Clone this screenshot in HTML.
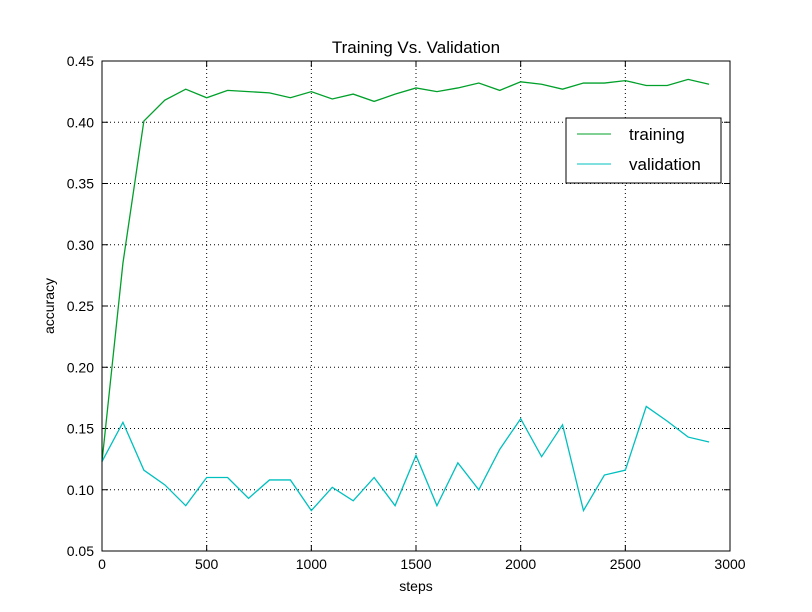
<!DOCTYPE html>
<html><head><meta charset="utf-8"><style>
body{margin:0;background:#fff}
svg{display:block;font-family:"Liberation Sans","DejaVu Sans",sans-serif}
</style></head><body>
<svg id="chart" width="812" height="612">
<rect width="812" height="612" fill="#bfbfbf" opacity="0"/>
<g id="grid"></g><g id="ticks"></g><g id="series"></g>
<rect x="102" y="61" width="628" height="490" fill="none" stroke="#000" stroke-width="1"/>
<text x="416" y="53" text-anchor="middle" font-size="17">Training Vs. Validation</text>
<text x="416" y="591" text-anchor="middle" font-size="14">steps</text>
<text x="54" y="306" text-anchor="middle" font-size="14" transform="rotate(-90 54 306)">accuracy</text>
<g>
<rect x="566" y="118" width="155" height="65" fill="#fff" stroke="#000"/>
<g><line x1="577" y1="134" x2="611" y2="134" stroke="#00a02a"/><text x="629" y="140" font-size="17">training</text></g>
<g><line x1="577" y1="164" x2="611" y2="164" stroke="#00bfbf"/><text x="629" y="170" font-size="17">validation</text></g>
</g>
</svg>
<script>
const steps=[0,100,200,300,400,500,600,700,800,900,1000,1100,1200,1300,1400,1500,1600,1700,1800,1900,2000,2100,2200,2300,2400,2500,2600,2700,2800,2900];
const training=[0.123,0.285,0.401,0.418,0.427,0.420,0.426,0.425,0.424,0.420,0.425,0.419,0.423,0.417,0.423,0.428,0.425,0.428,0.432,0.426,0.433,0.431,0.427,0.432,0.432,0.434,0.430,0.430,0.435,0.431];
const validation=[0.123,0.155,0.116,0.104,0.087,0.110,0.110,0.093,0.108,0.108,0.083,0.102,0.091,0.110,0.087,0.128,0.087,0.122,0.100,0.133,0.158,0.127,0.153,0.083,0.112,0.116,0.168,0.156,0.143,0.139];
const xTicks=[0,500,1000,1500,2000,2500,3000];
const yTicks=[0.05,0.10,0.15,0.20,0.25,0.30,0.35,0.40,0.45];
const NS="http://www.w3.org/2000/svg";
const X=v=>102+(v-0)/3000*628;
const Y=v=>551-(v-0.05)/0.4*490;
function mk(t,a,p){const e=document.createElementNS(NS,t);for(const k in a)e.setAttribute(k,a[k]);p.appendChild(e);return e;}
const grid=document.getElementById('grid'),ticks=document.getElementById('ticks'),ser=document.getElementById('series');
xTicks.forEach(v=>{const x=X(v);
 const g=mk('line',{x1:x,y1:61,x2:x,y2:551,stroke:'#000','stroke-dasharray':'1,3'},grid);
 
 
 mk('line',{x1:x,y1:551,x2:x,y2:545,stroke:'#000'},ticks);
 mk('line',{x1:x,y1:61,x2:x,y2:67,stroke:'#000'},ticks);
 const t=mk('text',{x:x,y:569,'text-anchor':'middle','font-size':14},ticks);t.textContent=v;
 
 
});
yTicks.forEach(v=>{const y=Y(v);
 const g=mk('line',{x1:102,y1:y,x2:730,y2:y,stroke:'#000','stroke-dasharray':'1,3'},grid);
 
 
 mk('line',{x1:102,y1:y,x2:108,y2:y,stroke:'#000'},ticks);
 mk('line',{x1:724,y1:y,x2:730,y2:y,stroke:'#000'},ticks);
 const t=mk('text',{x:94,y:y+5,'text-anchor':'end','font-size':14},ticks);t.textContent=v.toFixed(2);
 
 
});
function line(vals,color,name){
 const p=mk('polyline',{points:vals.map((v,i)=>X(steps[i])+','+Y(v)).join(' '),fill:'none',stroke:color,'stroke-width':1.3},ser);
 
 
}
line(training,'#00a02a','training-line');
line(validation,'#00bfbf','validation-line');
</script>
</body></html>
